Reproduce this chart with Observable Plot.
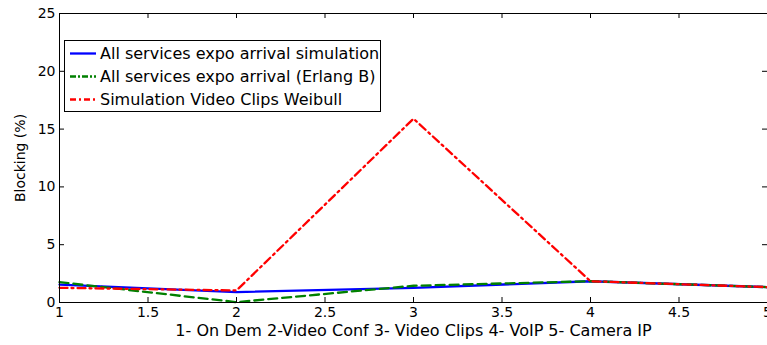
<!DOCTYPE html>
<html>
<head>
<meta charset="utf-8">
<script src="https://cdn.jsdelivr.net/npm/d3@7"></script>
<script src="https://cdn.jsdelivr.net/npm/@observablehq/plot@0.6"></script>
<style>
  html, body { margin: 0; padding: 0; background: #fff; }
  #chart { width: 767px; height: 345px; overflow: hidden; }
  #chart svg [aria-label="x-axis tick label"], #chart svg [aria-label="y-axis tick label"] { font-size: 14px; }
  #chart svg [aria-label="x-axis label"] { font-size: 16px; }
  #chart svg [aria-label="y-axis label"] { font-size: 14px; }
</style>
</head>
<body>
<div id="chart"></div>
<script>
const services = [1, 2, 3, 4, 5];
const expoSimulation = [1.55, 0.9, 1.27, 1.84, 1.33];
const expoErlangB = [1.76, 0.03, 1.45, 1.84, 1.33];
const weibullVideoClips = [1.27, 1.04, 15.9, 1.84, 1.33];

const xTicks = [1, 1.5, 2, 2.5, 3, 3.5, 4, 4.5, 5];
const yTicks = [0, 5, 10, 15, 20, 25];

const seriesNames = [
  "All services expo arrival simulation",
  "All services expo arrival (Erlang B)",
  "Simulation Video Clips Weibull"
];
const seriesValues = [expoSimulation, expoErlangB, weibullVideoClips];
const seriesColors = ["#0000ff", "#008000", "#ff0000"];
const seriesDash = [null, "9,5", "8,4,2,4"];

const xLabel = "1- On Dem 2-Video Conf 3- Video Clips 4- VoIP 5- Camera IP";
const yLabel = "Blocking (%)";

const rows = seriesNames.map((name, i) =>
  services.map((s, j) => ({series: name, x: s, y: seriesValues[i][j]}))
);

const W = 767, H = 345;
const mL = 59, mR = 0, mT = 13, mB = 43;
const innerW = W - mL - mR, innerH = H - mT - mB;
const tk = 5;
const font = "DejaVu Sans, Arial, sans-serif";

const lineMarks = rows.map((data, i) =>
  Plot.line(data, {x: "x", y: "y", stroke: seriesColors[i], strokeWidth: 2.3,
    strokeDasharray: seriesDash[i] || undefined})
);

const chart = Plot.plot({
  width: W, height: H,
  marginLeft: mL, marginRight: mR, marginTop: mT, marginBottom: mB,
  style: {fontFamily: font, fontSize: "14px", background: "#fff", color: "#000"},
  x: {domain: [1, 5]},
  y: {domain: [0, 25]},
  marks: [
    ...lineMarks,
    Plot.frame({stroke: "#000", strokeWidth: 1}),
    Plot.ruleX(xTicks, {x: d => d, insetTop: innerH - tk, stroke: "#000"}),
    Plot.ruleX(xTicks, {x: d => d, insetBottom: innerH - tk, stroke: "#000"}),
    Plot.ruleY(yTicks, {y: d => d, insetRight: innerW - tk, stroke: "#000"}),
    Plot.ruleY(yTicks, {y: d => d, insetLeft: innerW - tk, stroke: "#000"}),
    Plot.axisX(xTicks, {tickSize: 0, tickPadding: 5, tickFormat: d => String(d),
      label: xLabel, labelAnchor: "center", labelArrow: "none", labelOffset: 33}),
    Plot.axisY(yTicks, {tickSize: 0, tickPadding: 4, tickFormat: d => String(d),
      label: yLabel, labelAnchor: "center", labelArrow: "none", labelOffset: 44})
  ]
});

document.getElementById("chart").appendChild(chart);

// Legend inside the plot area
const svg = d3.select(chart);
const lg = svg.append("g").attr("font-family", font).attr("font-size", 16)
  .attr("text-anchor", "start");
const lx = 64, ly = 40, lw = 316, rowH = 23;
lg.append("rect").attr("x", lx + 0.5).attr("y", ly + 0.5).attr("width", lw).attr("height", 71)
  .attr("fill", "#fff").attr("stroke", "#000");
seriesNames.forEach((name, i) => {
  const cy = ly + 13.5 + i * rowH;
  lg.append("line").attr("x1", lx + 6).attr("x2", lx + 32).attr("y1", cy).attr("y2", cy)
    .attr("stroke", seriesColors[i]).attr("stroke-width", 2.3)
    .attr("stroke-dasharray", i === 1 ? "6,2,2,2" : i === 2 ? "6,3,2,3" : null);
  lg.append("text").attr("x", lx + 36).attr("y", cy).attr("dy", "0.35em")
    .attr("text-anchor", "start").text(name);
});
</script>
</body>
</html>
